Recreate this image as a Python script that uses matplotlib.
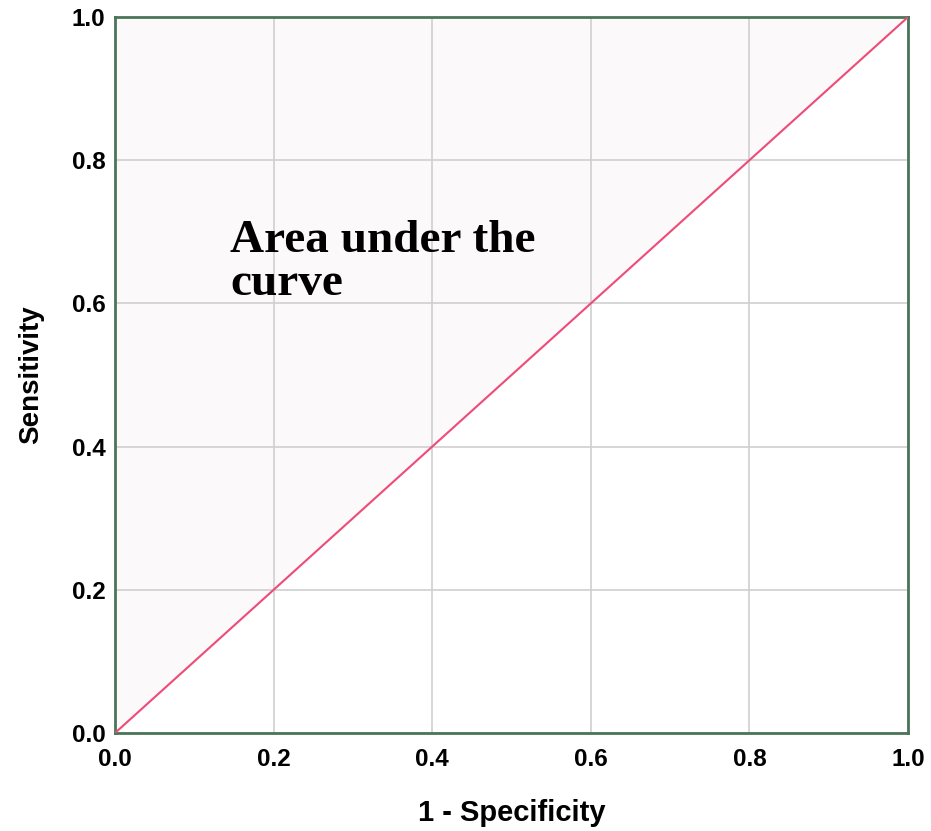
import matplotlib.pyplot as plt

# ROC reference line (chance diagonal)
fpr = [0.0, 0.2, 0.4, 0.6, 0.8, 1.0]
tpr = [0.0, 0.2, 0.4, 0.6, 0.8, 1.0]
ticks = [0.0, 0.2, 0.4, 0.6, 0.8, 1.0]
tick_labels = ['0.0', '0.2', '0.4', '0.6', '0.8', '1.0']

fig = plt.figure(figsize=(9.31, 8.31), dpi=100)
ax = fig.add_axes([0.1235, 0.1179, 0.8518, 0.8616])

# Shade the area above the diagonal
ax.fill_between(fpr, tpr, 1.0, color='#fcf9fa', zorder=0)
ax.plot(fpr, tpr, color='#ee4c78', linewidth=1.5, zorder=3)

ax.set_xlim(0, 1)
ax.set_ylim(0, 1)
ax.set_xticks(ticks)
ax.set_yticks(ticks)
ax.set_xticklabels(tick_labels, fontsize=17.5, fontweight='bold', family='Liberation Sans')
ax.set_yticklabels(tick_labels, fontsize=17.5, fontweight='bold', family='Liberation Sans')
ax.tick_params(axis='x', length=0, pad=11)
ax.tick_params(axis='y', length=0, pad=7)
ax.grid(True, color='#cfcfcf', linewidth=1.2, zorder=1)
ax.set_axisbelow(True)

for side in ax.spines.values():
    side.set_color('#4a7558')
    side.set_linewidth(2)

ax.set_xlabel('1 - Specificity', fontsize=21, fontweight='bold', family='Liberation Sans', labelpad=20)
ax.set_ylabel('Sensitivity', fontsize=20, fontweight='bold', family='Liberation Sans', labelpad=20)

ax.text(0.145, 0.672, 'Area under the', fontsize=34, fontweight='bold',
        family='Liberation Serif', ha='left', va='baseline', zorder=4)
ax.text(0.145, 0.612, 'curve', fontsize=34, fontweight='bold',
        family='Liberation Serif', ha='left', va='baseline', zorder=4)

plt.savefig('out.png', dpi=100)
